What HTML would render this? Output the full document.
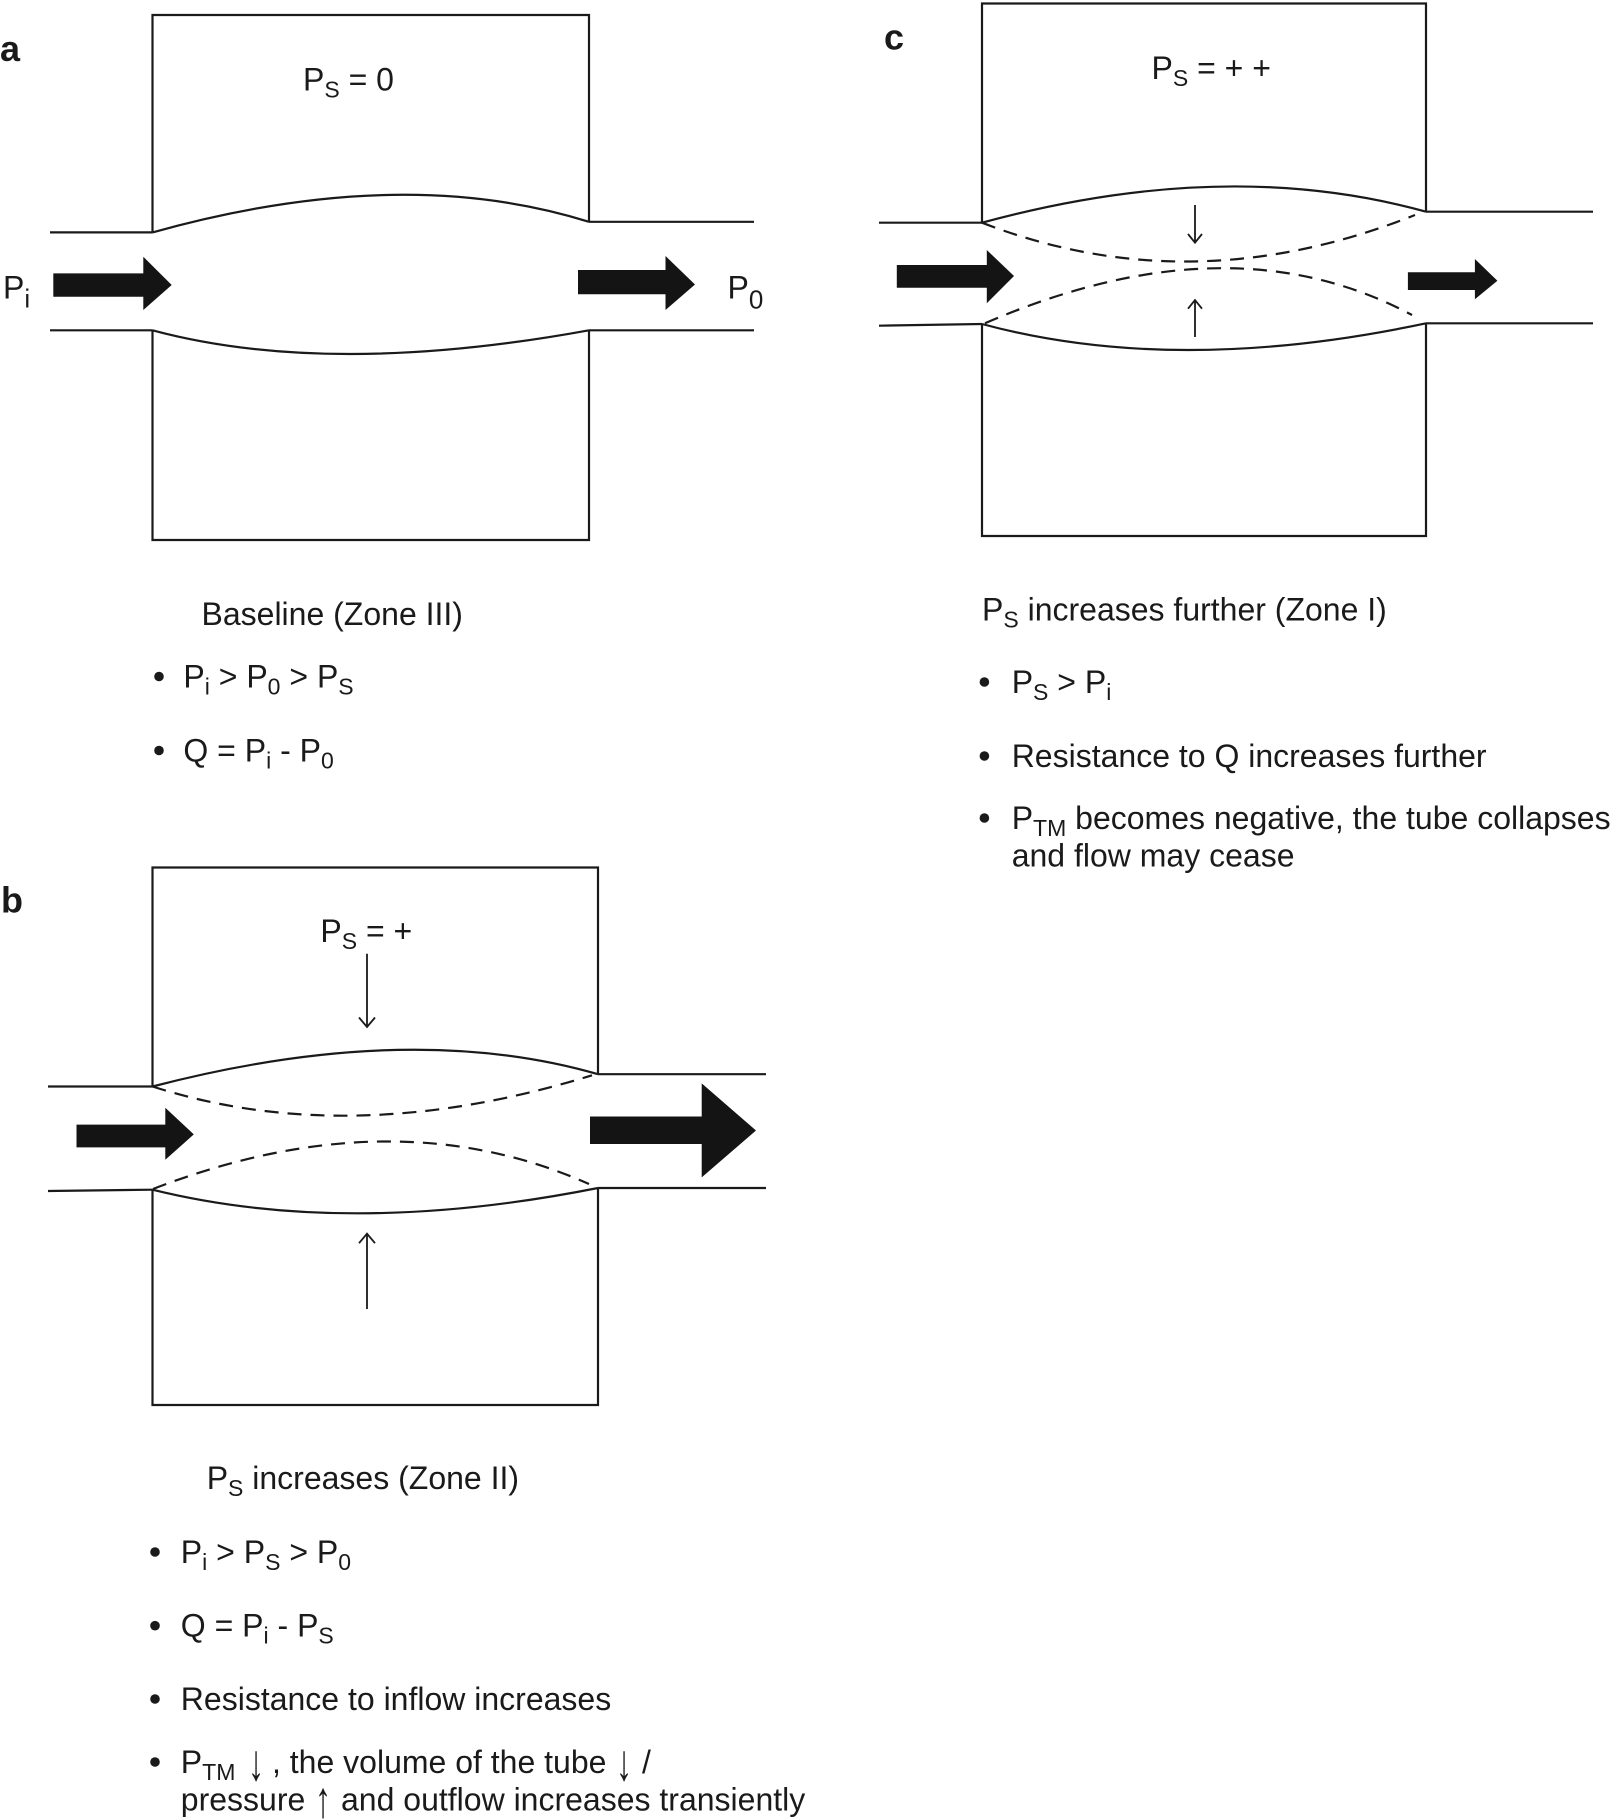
<!DOCTYPE html>
<html>
<head>
<meta charset="utf-8">
<style>
  html, body { margin: 0; padding: 0; background: #ffffff; }
  svg { display: block; }
  text { font-family: "Liberation Sans", Arial, "DejaVu Sans", sans-serif; font-size: 32px; fill: #1a1a1a; }
  .lbl { font-weight: bold; font-size: 36px; }
  .ln { fill: none; stroke: #1a1a1a; stroke-width: 2.2; }
  .ds { fill: none; stroke: #1a1a1a; stroke-width: 2.2; stroke-dasharray: 14 9; }
  .th { fill: none; stroke: #1a1a1a; stroke-width: 1.8; }
  .ar { fill: #141414; stroke: none; }
  .bu { fill: #1a1a1a; }
</style>
</head>
<body>
<svg width="1612" height="1820" viewBox="0 0 1612 1820" xmlns="http://www.w3.org/2000/svg">
  <rect x="0" y="0" width="1612" height="1820" fill="#ffffff"/>

  <!-- ================= PANEL A ================= -->
  <text class="lbl" x="0" y="61">a</text>
  <path class="ln" d="M152.5,232.4 V15 H589 V221.8"/>
  <path class="ln" d="M152.5,330.3 V540 H589 V330.3"/>
  <path class="ln" d="M50,232.4 H152.5"/>
  <path class="ln" d="M589,221.8 H754"/>
  <path class="ln" d="M50,330.3 H152.5"/>
  <path class="ln" d="M589,330.3 H754"/>
  <path class="ln" d="M152.5,232.4 Q401,162.9 589,221.8"/>
  <path class="ln" d="M152.5,330.3 Q329,377.7 589,330.3"/>
  <polygon class="ar" points="53.3,273.4 143.3,273.4 143.3,256.7 171.7,285 143.3,310 143.3,296.8 53.3,296.8"/>
  <polygon class="ar" points="578,270 665.5,270 665.5,256 695,284.5 665.5,310 665.5,294.2 578,294.2"/>
  <text x="303" y="90.5">P<tspan font-size="23" dy="7">S</tspan><tspan dy="-7"> = 0</tspan></text>
  <text x="3" y="298.3">P<tspan font-size="26" dy="9">i</tspan></text>
  <text x="727.5" y="298.6">P<tspan font-size="26" dy="10">0</tspan></text>

  <text x="201.5" y="625">Baseline (Zone III)</text>
  <circle class="bu" cx="159" cy="676.5" r="4.8"/>
  <text x="183.4" y="687.7">P<tspan font-size="23" dy="7">i</tspan><tspan dy="-7"> &gt; P</tspan><tspan font-size="23" dy="7">0</tspan><tspan dy="-7"> &gt; P</tspan><tspan font-size="23" dy="7">S</tspan></text>
  <circle class="bu" cx="159" cy="750.5" r="4.8"/>
  <text x="183.4" y="761.7">Q = P<tspan font-size="23" dy="7">i</tspan><tspan dy="-7"> - P</tspan><tspan font-size="23" dy="7">0</tspan></text>

  <!-- ================= PANEL B ================= -->
  <text class="lbl" x="1" y="912.7">b</text>
  <path class="ln" d="M152.5,1086.5 V867.5 H598 V1074.2"/>
  <path class="ln" d="M152.5,1189.7 V1405 H598 V1188"/>
  <path class="ln" d="M48,1086.5 H152.5"/>
  <path class="ln" d="M598,1074.2 H766"/>
  <path class="ln" d="M48,1191 L152.5,1189.7"/>
  <path class="ln" d="M598,1188 H766"/>
  <path class="ln" d="M152.5,1086.5 Q409,1019.7 598,1074.2"/>
  <path class="ds" d="M152.5,1086.5 Q350,1150 592,1075.3"/>
  <path class="ds" d="M153,1189 Q392,1096.5 589,1184"/>
  <path class="ln" d="M152.5,1189.7 Q347,1237.8 598,1188"/>
  <path class="th" d="M367,953.8 V1027 M359,1017.5 L367,1027 L375,1017.5"/>
  <path class="th" d="M367,1309 V1233.7 M359,1243.2 L367,1233.7 L375,1243.2"/>
  <polygon class="ar" points="76.5,1124.6 165.3,1124.6 165.3,1107.7 193.8,1134.4 165.3,1159.8 165.3,1147.4 76.5,1147.4"/>
  <polygon class="ar" points="590,1116.5 701.7,1116.5 701.7,1083.4 756,1130.5 701.7,1177.4 701.7,1144 590,1144"/>
  <text x="320.4" y="942.2">P<tspan font-size="23" dy="7">S</tspan><tspan dy="-7"> = +</tspan></text>

  <text x="206.7" y="1489">P<tspan font-size="23" dy="7">S</tspan><tspan dy="-7"> increases (Zone II)</tspan></text>
  <circle class="bu" cx="155" cy="1552" r="4.8"/>
  <text x="180.8" y="1563">P<tspan font-size="23" dy="7">i</tspan><tspan dy="-7"> &gt; P</tspan><tspan font-size="23" dy="7">S</tspan><tspan dy="-7"> &gt; P</tspan><tspan font-size="23" dy="7">0</tspan></text>
  <circle class="bu" cx="155" cy="1625.7" r="4.8"/>
  <text x="180.8" y="1636.7">Q = P<tspan font-size="23" dy="7">i</tspan><tspan dy="-7"> - P</tspan><tspan font-size="23" dy="7">S</tspan></text>
  <circle class="bu" cx="155" cy="1699" r="4.8"/>
  <text x="180.8" y="1710">Resistance to inflow increases</text>
  <circle class="bu" cx="155" cy="1762" r="4.8"/>
  <text x="180.8" y="1773">P<tspan font-size="23" dy="7">TM</tspan></text>
  <text transform="translate(256,1780) scale(1,1.6)" text-anchor="middle">↓</text>
  <text x="272" y="1773">, the volume of the tube</text>
  <text transform="translate(624,1780) scale(1,1.6)" text-anchor="middle">↓</text>
  <text x="642" y="1773">/</text>
  <text x="180.8" y="1810.7">pressure</text>
  <text transform="translate(323,1817) scale(1,1.6)" text-anchor="middle">↑</text>
  <text x="341" y="1810.7">and outflow increases transiently</text>

  <!-- ================= PANEL C ================= -->
  <text class="lbl" x="884" y="49.5">c</text>
  <path class="ln" d="M982,222.7 V3.5 H1426 V211.7"/>
  <path class="ln" d="M982,324 V536 H1426 V323.3"/>
  <path class="ln" d="M879,222.7 H982"/>
  <path class="ln" d="M1426,211.7 H1593"/>
  <path class="ln" d="M879,325.7 L982,324"/>
  <path class="ln" d="M1426,323.3 H1593"/>
  <path class="ln" d="M982,222.7 Q1226,156.2 1426,211.7"/>
  <path class="ds" d="M982,222.7 Q1191.5,304 1415,215"/>
  <path class="ds" d="M985,323.3 Q1229.5,217.4 1412,315"/>
  <path class="ln" d="M982,324 Q1176,376.4 1426,323.3"/>
  <path class="th" d="M1195,205 V242.7 M1188,234 L1195,242.7 L1202,234"/>
  <path class="th" d="M1195,337 V300 M1188,308.7 L1195,300 L1202,308.7"/>
  <polygon class="ar" points="896.8,265 986.8,265 986.8,250 1014,276 986.8,303.3 986.8,287.7 896.8,287.7"/>
  <polygon class="ar" points="1407.9,272.3 1474.9,272.3 1474.9,259 1497.4,280.7 1474.9,299.3 1474.9,290 1407.9,290"/>
  <text x="1151.5" y="78.8">P<tspan font-size="23" dy="7">S</tspan><tspan dy="-7"> = + +</tspan></text>

  <text x="982" y="620.7">P<tspan font-size="23" dy="7">S</tspan><tspan dy="-7"> increases further (Zone I)</tspan></text>
  <circle class="bu" cx="984.4" cy="682" r="4.8"/>
  <text x="1011.7" y="693">P<tspan font-size="23" dy="7">S</tspan><tspan dy="-7"> &gt; P</tspan><tspan font-size="23" dy="7">i</tspan></text>
  <circle class="bu" cx="984.4" cy="756" r="4.8"/>
  <text x="1011.7" y="767">Resistance to Q increases further</text>
  <circle class="bu" cx="984.4" cy="818" r="4.8"/>
  <text x="1011.7" y="829">P<tspan font-size="23" dy="7">TM</tspan><tspan dy="-7"> becomes negative, the tube collapses</tspan></text>
  <text x="1011.7" y="866.7">and flow may cease</text>
</svg>
</body>
</html>
